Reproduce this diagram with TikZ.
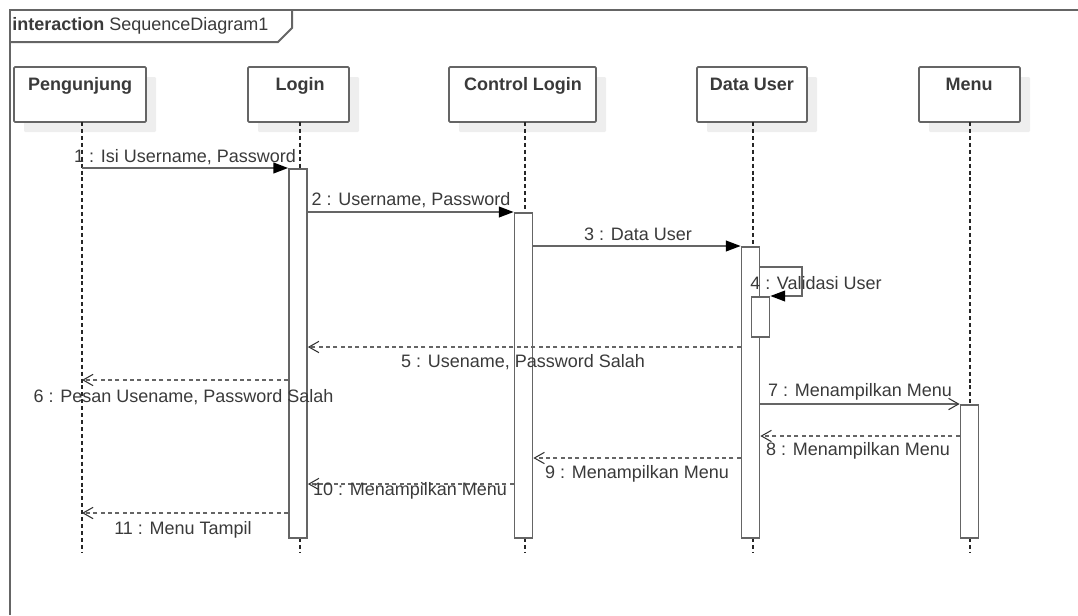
\documentclass[tikz,border=0pt]{standalone}
\usepackage{fontspec}
\setmainfont{Liberation Sans}
\usetikzlibrary{arrows.meta,shadows}
\definecolor{ln}{HTML}{656565}
\definecolor{tx}{HTML}{3A3A3A}
\definecolor{shd}{HTML}{EEEEEE}
\tikzset{
  frame/.style={draw=ln, line width=1.5pt},
  head/.style={draw=ln, line width=1.3pt, fill=white, rounded corners=0.8pt,
    minimum height={55*0.75pt}, inner sep=0pt,
    drop shadow={shadow xshift=7.5pt, shadow yshift=-7.5pt, fill=shd, opacity=1}},
  headtxt/.style={font=\fontsize{13.5}{16}\selectfont\bfseries, text=tx, inner sep=0pt, anchor=base},
  lifeline/.style={draw=black!85, line width=0.9pt, dash pattern=on 3pt off 2.2pt},
  bar/.style={draw=ln, line width=1.3pt, fill=white, anchor=north, minimum width={18*0.75pt}, inner sep=0pt},
  sync/.style={draw=ln, line width=1.2pt, -{Triangle[length=11pt,width=8pt,fill=black,color=black]}},
  async/.style={draw=ln, line width=1.2pt, -{Straight Barb[length=7.5pt,width=8.5pt,color=black!80,line width=0.8pt]}},
  reply/.style={draw=ln, line width=1.2pt, dash pattern=on 3pt off 2.5pt, -{Straight Barb[length=7.5pt,width=8.5pt,color=black!80,line width=0.8pt]}},
  msg/.style={font=\fontsize{13.5}{16}\selectfont, text=tx, inner sep=0pt}
}
\begin{document}
\begin{tikzpicture}[x=0.75pt,y=-0.75pt]
\useasboundingbox (0,0) rectangle (1078,615);
% frame
\draw[frame] (10,615) -- (10,10) -- (1078,10);
\draw[frame] (10,42) -- (278,42) -- (292,28) -- (292,10);
\node[msg, anchor=west] (title) at (12,26) {\textbf{interaction} SequenceDiagram1};
% lifeline heads
\node[head, minimum width={132*0.75pt}] (pg) at (80,94.5) {};
\node[head, minimum width={101*0.75pt}] (lg) at (298.5,94.5) {};
\node[head, minimum width={147*0.75pt}] (cl) at (522.5,94.5) {};
\node[head, minimum width={110*0.75pt}] (du) at (752,94.5) {};
\node[head, minimum width={101*0.75pt}] (mn) at (969.5,94.5) {};
\node[headtxt] (pgt) at (80,90) {Pengunjung};
\node[headtxt] (lgt) at (300,90) {Login};
\node[headtxt] (clt) at (523,90) {Control Login};
\node[headtxt] (dut) at (752,90) {Data User};
\node[headtxt] (mnt) at (969,90) {Menu};
% lifelines
\coordinate (pgl) at (82,122);
\coordinate (lgl) at (300,122);
\coordinate (cll) at (525,122);
\coordinate (dul) at (753,122);
\coordinate (mnl) at (970,122);
\draw[lifeline] (pgl) -- ++(0,431);
\draw[lifeline] (lgl) -- ++(0,431);
\draw[lifeline] (cll) -- ++(0,431);
\draw[lifeline] (dul) -- ++(0,431);
\draw[lifeline] (mnl) -- ++(0,431);
% activation bars
\node[bar, minimum height={369*0.75pt}] (bLg) at (298,168) {};
\node[bar, minimum height={325*0.75pt}] (bCl) at (523.5,212) {};
\node[bar, minimum height={291*0.75pt}] (bDu) at (750.5,246) {};
\node[bar, minimum height={133*0.75pt}] (bMn) at (969.5,404) {};
\node[bar, minimum height={40*0.75pt}] (bSelf) at (760.5,296) {};
% message y levels
\coordinate (y4) at (0,267);
\coordinate (y5) at (0,347);
\coordinate (y6) at (0,380);
\coordinate (y8) at (0,436);
\coordinate (y9) at (0,458);
\coordinate (y10) at (0,484);
\coordinate (y11) at (0,513);
\coordinate (s4) at (802,267);
% messages
\draw[sync] (pgl |- bLg.north) -- (bLg.north west);
\node[msg] (l1) at (185,157) {1 : Isi Username, Password};
\draw[sync] (bLg.east |- bCl.north) -- (bCl.north west);
\node[msg] (l2) at (411,200) {2 : Username, Password};
\draw[sync] (bCl.east |- bDu.north) -- (bDu.north west);
\node[msg] (l3) at (638,234) {3 : Data User};
\draw[sync] (bDu.east |- y4) -- (s4) -- (s4 |- bSelf.north) -- (bSelf.north east);
\node[msg] (l4) at (816,283) {4 : Validasi User};
\draw[reply] (bDu.west |- y5) -- (bLg.east |- y5);
\node[msg] (l5) at (523,362) {5 : Usename, Password Salah};
\draw[reply] (bLg.west |- y6) -- (pgl |- y6);
\node[msg] (l6) at (183.5,397) {6 : Pesan Usename, Password Salah};
\draw[async] (bDu.east |- bMn.north) -- (bMn.north west);
\node[msg] (l7) at (860,392) {7 : Menampilkan Menu};
\draw[reply] (bMn.west |- y8) -- (bDu.east |- y8);
\node[msg] (l8) at (858,451) {8 : Menampilkan Menu};
\draw[reply] (bDu.west |- y9) -- (bCl.east |- y9);
\node[msg] (l9) at (637,474) {9 : Menampilkan Menu};
\draw[reply] (bCl.west |- y10) -- (bLg.east |- y10);
\node[msg] (l10) at (410,491) {10 : Menampilkan Menu};
\draw[reply] (bLg.west |- y11) -- (pgl |- y11);
\node[msg] (l11) at (183,530) {11 : Menu Tampil};
\end{tikzpicture}
\end{document}
